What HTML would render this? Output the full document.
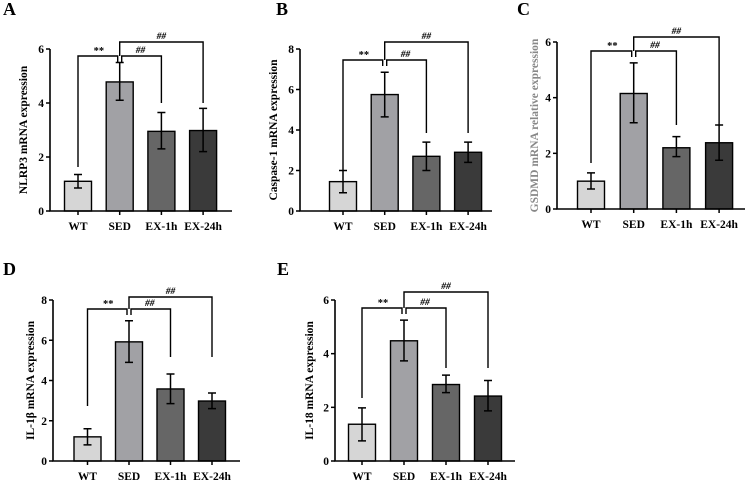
<!DOCTYPE html>
<html><head><meta charset="utf-8"><style>
html,body{margin:0;padding:0;background:#fff}
svg{display:block;font-family:"Liberation Serif",serif;font-weight:bold}
</style></head><body>
<svg id="fig" width="750" height="480" viewBox="0 0 750 480"></svg>
<script>
const categories = ["WT","SED","EX-1h","EX-24h"];
const colors = ["#d6d6d6","#a1a1a5","#666666","#3a3a3a"];
const valuesA = [1.1, 4.78, 2.95, 2.98];
const errLoA = [0.85, 4.1, 2.3, 2.2];
const errHiA = [1.35, 5.5, 3.65, 3.8];
const valuesB = [1.45, 5.75, 2.7, 2.9];
const errLoB = [0.9, 4.65, 2.0, 2.4];
const errHiB = [2.0, 6.85, 3.4, 3.4];
const valuesC = [1.0, 4.15, 2.2, 2.38];
const errLoC = [0.72, 3.1, 1.88, 1.75];
const errHiC = [1.3, 5.25, 2.6, 3.02];
const valuesD = [1.2, 5.92, 3.58, 2.98];
const errLoD = [0.8, 4.9, 2.85, 2.6];
const errHiD = [1.6, 6.97, 4.32, 3.38];
const valuesE = [1.37, 4.48, 2.85, 2.42];
const errLoE = [0.75, 3.73, 2.55, 1.87];
const errHiE = [1.98, 5.25, 3.2, 3.0];
const ticksA = [0,2,4,6], ticksB = [0,2,4,6,8], ticksC = [0,2,4,6], ticksD = [0,2,4,6,8], ticksE = [0,2,4,6];

const panels = [
 {id:"a",letter:"A",lx:3,ly:15,ax:50,y0:211,yTop:49,max:6,bx0:78,step:41.7,axEnd:232,title:"NLRP3 mRNA expression",tx:27,tc:"#000",vals:valuesA,lo:errLoA,hi:errHiA,ticks:ticksA,br:{s:56,big:42,wtLeg:167,exLeg:103}},
 {id:"b",letter:"B",lx:276,ly:15,ax:300,y0:211,yTop:49,max:8,bx0:343,step:41.7,axEnd:492,title:"Caspase-1 mRNA expression",tx:277,tc:"#000",vals:valuesB,lo:errLoB,hi:errHiB,ticks:ticksB,br:{s:60,big:42,wtLeg:170,exLeg:133}},
 {id:"c",letter:"C",lx:517,ly:15,ax:557,y0:209,yTop:42,max:6,bx0:591,step:42.7,axEnd:745,title:"GSDMD mRNA relative expression",tx:538,tc:"#888",vals:valuesC,lo:errLoC,hi:errHiC,ticks:ticksC,br:{s:51,big:37,wtLeg:163,exLeg:125}},
 {id:"d",letter:"D",lx:3,ly:275,ax:53,y0:461,yTop:300,max:8,bx0:87.5,step:41.5,axEnd:240,title:"IL-1β  mRNA expression",tx:34,tc:"#000",vals:valuesD,lo:errLoD,hi:errHiD,ticks:ticksD,br:{s:309,big:297,wtLeg:406,exLeg:357}},
 {id:"e",letter:"E",lx:277,ly:275,ax:335,y0:461,yTop:300,max:6,bx0:362,step:42,axEnd:515,title:"IL-18 mRNA expression",tx:313,tc:"#000",vals:valuesE,lo:errLoE,hi:errHiE,ticks:ticksE,br:{s:308,big:292,wtLeg:398,exLeg:368}}
];
const NS="http://www.w3.org/2000/svg";
const svg=document.getElementById("fig");
function mk(tag,attrs,parent,text){const e=document.createElementNS(NS,tag);for(const k in attrs)e.setAttribute(k,attrs[k]);if(text!==undefined)e.textContent=text;parent.appendChild(e);return e;}
panels.forEach(p=>{
  const g=mk("g",{},svg);
  
  
  const y=v=>p.y0-(p.y0-p.yTop)*v/p.max;
  const x=i=>p.bx0+p.step*i;
  const L=mk("text",{x:p.lx,y:p.ly,"font-size":18},g,p.letter);
  
  
  p.vals.forEach((v,i)=>{
    const r=mk("rect",{x:x(i)-13.5,y:y(v),width:27,height:p.y0-y(v),fill:colors[i],stroke:"#000","stroke-width":1.4},g);
    
    
    const e=mk("path",{d:`M${x(i)} ${y(p.lo[i])}V${y(p.hi[i])}M${x(i)-4} ${y(p.lo[i])}H${x(i)+4}M${x(i)-4} ${y(p.hi[i])}H${x(i)+4}`,stroke:"#000","stroke-width":1.5,fill:"none"},g);
    
    
    const t=mk("text",{x:x(i),y:p.y0+19,"font-size":11.5,"text-anchor":"middle"},g,categories[i]);
    
    
    mk("line",{x1:x(i),x2:x(i),y1:p.y0,y2:p.y0+4,stroke:"#000","stroke-width":1.5},g);
  });
  const ax=mk("path",{d:`M${p.ax} ${p.yTop}V${p.y0}H${p.axEnd}`,stroke:"#000","stroke-width":1.6,fill:"none"},g);
  
  
  p.ticks.forEach(tv=>{
    mk("line",{x1:p.ax-4,x2:p.ax,y1:y(tv),y2:y(tv),stroke:"#000","stroke-width":1.5},g);
    const t=mk("text",{x:p.ax-6,y:y(tv)+4,"font-size":11.5,"text-anchor":"end"},g,tv);
    
    
  });
  const cy=(p.y0+p.yTop)/2;
  const tt=mk("text",{x:p.tx,y:cy,"font-size":11.5,"text-anchor":"middle",fill:p.tc,transform:`rotate(-90 ${p.tx} ${cy})`},g,p.title);
  
  
  const b=p.br, x0=x(0), x1=x(1), x2=x(2), x3=x(3);
  const s=mk("path",{d:`M${x0} ${b.wtLeg}V${b.s}H${x1-2}V${b.s+6}M${x1+2} ${b.s+6}V${b.s}H${x2}V${b.exLeg}M${x1} ${b.s}V${b.big}H${x3}V${b.exLeg}`,stroke:"#000","stroke-width":1.4,fill:"none"},g);
  
  
  const t1=mk("text",{x:(x0+x1)/2,y:b.s-2,"font-size":10.5,"text-anchor":"middle"},g,"**");
  
  
  const t2=mk("text",{x:(x1+x2)/2,y:b.s-3,"font-size":9.5,"font-style":"italic","text-anchor":"middle"},g,"##");
  
  
  const t3=mk("text",{x:(x1+x3)/2,y:b.big-3,"font-size":9.5,"font-style":"italic","text-anchor":"middle"},g,"##");
  
  
});
</script>
</body></html>
